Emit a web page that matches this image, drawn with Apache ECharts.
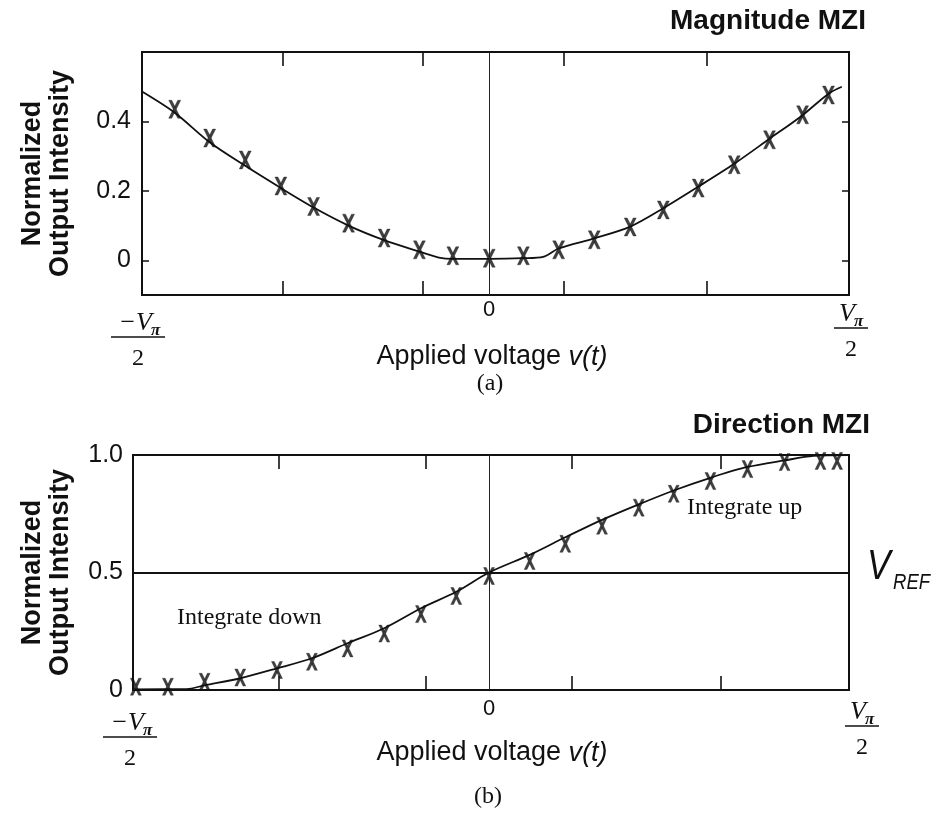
<!DOCTYPE html>
<html>
<head>
<meta charset="utf-8">
<script src="https://cdn.jsdelivr.net/npm/echarts@6/dist/echarts.min.js"></script>
<style>html,body{margin:0;padding:0;background:#fff}#c{width:952px;height:813px}</style>
</head>
<body>
<div id="c"></div>
<script>
// ---- Data (x in units of V_pi/2, zero at the vertical reference line) ----
const topLineX = [-0.965, -0.874, -0.777, -0.678, -0.579, -0.488, -0.391, -0.292, -0.194, -0.14, -0.101, 0, 0.095, 0.15, 0.193, 0.292, 0.392, 0.484, 0.581, 0.681, 0.779, 0.871, 0.943, 0.98];
const topLineY = [0.486, 0.425, 0.34, 0.272, 0.208, 0.152, 0.100, 0.058, 0.025, 0.008, 0.004, 0.004, 0.006, 0.01, 0.034, 0.063, 0.097, 0.15, 0.212, 0.278, 0.35, 0.418, 0.48, 0.50];
const topMarkX = [-0.874, -0.777, -0.678, -0.579, -0.488, -0.391, -0.292, -0.194, -0.101, 0, 0.095, 0.193, 0.292, 0.392, 0.484, 0.581, 0.681, 0.779, 0.871, 0.943];
const topMarkY = [0.435, 0.352, 0.289, 0.214, 0.155, 0.107, 0.064, 0.030, 0.013, 0.006, 0.013, 0.030, 0.059, 0.096, 0.145, 0.208, 0.275, 0.347, 0.419, 0.476];

const botLineX = [-0.988, -0.84, -0.79, -0.691, -0.589, -0.492, -0.393, -0.291, -0.189, -0.091, 0, 0.113, 0.212, 0.314, 0.416, 0.515, 0.615, 0.718, 0.821, 0.901, 1.0];
const botLineY = [0.003, 0.004, 0.02, 0.05, 0.092, 0.135, 0.199, 0.263, 0.348, 0.418, 0.5, 0.575, 0.65, 0.724, 0.79, 0.85, 0.903, 0.949, 0.977, 0.996, 1.0];
const botMarkX = [-0.981, -0.892, -0.790, -0.691, -0.589, -0.492, -0.393, -0.291, -0.189, -0.091, 0, 0.113, 0.212, 0.314, 0.416, 0.513, 0.615, 0.718, 0.821, 0.921, 0.967];
const botMarkY = [0.014, 0.014, 0.035, 0.053, 0.085, 0.120, 0.177, 0.240, 0.323, 0.400, 0.485, 0.549, 0.622, 0.699, 0.776, 0.835, 0.889, 0.940, 0.970, 0.975, 0.975];

const topXTicks = [-0.575, -0.186, 0.206, 0.606];
const botXTicks = [-0.585, -0.177, 0.229, 0.645];
const topYTicks = [0, 0.2, 0.4];
const botYTicks = [0, 0.5, 1.0];
const vRef = 0.5;

const titles = ['Magnitude MZI', 'Direction MZI'];
const xName = 'Applied voltage';
const yName = 'Normalized\nOutput Intensity';
const panelLabels = ['(a)', '(b)'];
const regionLabels = ['Integrate down', 'Integrate up'];

// ---- Helpers ----
const SANS = '"Liberation Sans", Arial, sans-serif';
const SERIF = '"Liberation Serif", "Times New Roman", serif';
const INK = '#111';
const pairs = (xs, ys) => xs.map((x, i) => [x, ys[i]]);
const XPATH = 'path://M0,0L3,0L12,18L9,18Z M9,0L12,0L3,18L0,18Z';

function xAxes(grid, min, max, ticks, labelMargin) {
  const tick = {show: true, inside: true, length: 14, customValues: ticks, lineStyle: {color: INK, width: 1.6}};
  return [
    {gridIndex: grid, type: 'value', min, max, position: 'bottom',
     axisLine: {show: false, onZero: false}, splitLine: {show: false}, axisTick: tick,
     axisLabel: {show: true, customValues: [0], formatter: () => '0', margin: labelMargin,
                 fontSize: 22, fontFamily: SANS, color: INK}},
    {gridIndex: grid, type: 'value', min, max, position: 'top',
     axisLine: {show: false, onZero: false}, splitLine: {show: false}, axisTick: tick, axisLabel: {show: false}}
  ];
}

function text(x, y, str, font, align, valign) {
  return {type: 'text', x, y, silent: true,
    style: {text: str, font, fill: INK, textAlign: align, align: align,
            textVerticalAlign: valign, verticalAlign: valign}};
}

function frac(cx, by, neg) {
  const vr = neg ? cx + 14 : cx + 4;
  const bw = neg ? 54 : 34;
  return [
    text(vr, by - 1, neg ? '\u2212V' : 'V', 'italic 26px ' + SERIF, 'right', 'bottom'),
    text(vr - 1, by + 2, '\u03c0', 'italic bold 17px ' + SERIF, 'left', 'bottom'),
    {type: 'rect', silent: true, shape: {x: cx - bw / 2, y: by - 0.8, width: bw, height: 1.6}, style: {fill: INK}},
    text(cx, by + 22, '2', '24px ' + SERIF, 'center', 'middle')
  ];
}

function xNameText(cx, cy) {
  return {type: 'text', x: cx, y: cy, silent: true,
    style: {text: '{n|' + xName + ' }{i|v(t)}', textAlign: 'center', align: 'center',
            textVerticalAlign: 'middle', verticalAlign: 'middle', fill: INK,
            rich: {n: {fontSize: 27, fontFamily: SANS, color: INK},
                   i: {fontSize: 27, fontFamily: SANS, fontStyle: 'italic', color: INK}}}};
}

// V_REF label: a small group scaled horizontally to mimic the condensed face
const vRefLabel = {type: 'group', x: 867, y: 567, scaleX: 0.84, scaleY: 1, silent: true,
  children: [text(0, 0, 'V', 'italic 42px ' + SANS, 'left', 'middle'),
             text(31, 16, 'REF', 'italic 22px ' + SANS, 'left', 'middle')]};

const yNameStyle = {fontWeight: 'bold', fontSize: 27, fontFamily: SANS, color: INK, lineHeight: 28, align: 'center'};

const graphics = [].concat(
  [text(866, 21, titles[0], 'bold 28px ' + SANS, 'right', 'middle'),
   text(870, 425, titles[1], 'bold 28px ' + SANS, 'right', 'middle')],
  frac(138, 337, true), frac(851, 328, false),
  frac(130, 737, true), frac(862, 726, false),
  [xNameText(492, 357), xNameText(492, 753),
   text(490, 384, panelLabels[0], '24px ' + SERIF, 'center', 'middle'),
   text(488, 797, panelLabels[1], '24px ' + SERIF, 'center', 'middle'),
   text(177, 618, regionLabels[0], '24px ' + SERIF, 'left', 'middle'),
   text(687, 508, regionLabels[1], '24px ' + SERIF, 'left', 'middle'),
   vRefLabel]
);

const markerStyle = {color: INK, borderColor: INK, borderWidth: 0.4};
const zeroLine = {xAxis: 0, lineStyle: {color: '#222', width: 1, type: 'solid'}};

const option = {
  animation: false,
  backgroundColor: '#ffffff',
  grid: [
    {left: 142, top: 52, width: 707, height: 243, show: true, borderColor: INK, borderWidth: 2, backgroundColor: 'transparent'},
    {left: 133, top: 455, width: 716, height: 235, show: true, borderColor: INK, borderWidth: 2, backgroundColor: 'transparent'}
  ],
  xAxis: [].concat(xAxes(0, -0.965, 1, topXTicks, 4), xAxes(1, -0.989, 1, botXTicks, 8)),
  yAxis: [
    {gridIndex: 0, type: 'value', min: -0.1, max: 0.6, position: 'left',
     axisLine: {show: false, onZero: false}, splitLine: {show: false},
     axisTick: {show: true, inside: true, length: 7, customValues: topYTicks, lineStyle: {color: INK, width: 1.5}},
     axisLabel: {customValues: topYTicks, formatter: v => (v === 0 ? '0' : v.toFixed(1)), margin: 11, fontSize: 25, fontFamily: SANS, color: INK},
     name: yName, nameLocation: 'middle', nameGap: 67, nameTextStyle: yNameStyle},
    {gridIndex: 0, type: 'value', min: -0.1, max: 0.6, position: 'right',
     axisLine: {show: false, onZero: false}, splitLine: {show: false},
     axisTick: {show: true, inside: true, length: 7, customValues: topYTicks, lineStyle: {color: INK, width: 1.5}},
     axisLabel: {show: false}},
    {gridIndex: 1, type: 'value', min: 0, max: 1, position: 'left',
     axisLine: {show: false, onZero: false}, splitLine: {show: false}, axisTick: {show: false},
     axisLabel: {customValues: botYTicks, formatter: v => (v === 0 ? '0' : v.toFixed(1)), margin: 10, fontSize: 25, fontFamily: SANS, color: INK},
     name: yName, nameLocation: 'middle', nameGap: 58, nameTextStyle: yNameStyle}
  ],
  series: [
    {type: 'line', xAxisIndex: 0, yAxisIndex: 0, data: pairs(topLineX, topLineY), showSymbol: false, smooth: 0.3,
     lineStyle: {color: INK, width: 1.8}, silent: true, z: 3},
    {type: 'scatter', xAxisIndex: 0, yAxisIndex: 0, data: pairs(topMarkX, topMarkY), symbol: XPATH, symbolSize: [12, 18],
     itemStyle: markerStyle, silent: true, z: 4, clip: false,
     markLine: {silent: true, symbol: ['none', 'none'], label: {show: false}, data: [zeroLine]}},
    {type: 'line', xAxisIndex: 2, yAxisIndex: 2, data: pairs(botLineX, botLineY), showSymbol: false, smooth: 0.3,
     lineStyle: {color: INK, width: 1.8}, silent: true, z: 3},
    {type: 'scatter', xAxisIndex: 2, yAxisIndex: 2, data: pairs(botMarkX, botMarkY), symbol: XPATH, symbolSize: [11, 17],
     itemStyle: markerStyle, silent: true, z: 4, clip: false,
     markLine: {silent: true, symbol: ['none', 'none'], label: {show: false},
       data: [zeroLine, {yAxis: vRef, lineStyle: {color: INK, width: 2, type: 'solid'}}]}}
  ],
  graphic: {elements: graphics}
};

const chart = echarts.init(document.getElementById('c'), null, {renderer: 'canvas'});
chart.setOption(option);
</script>
</body>
</html>
